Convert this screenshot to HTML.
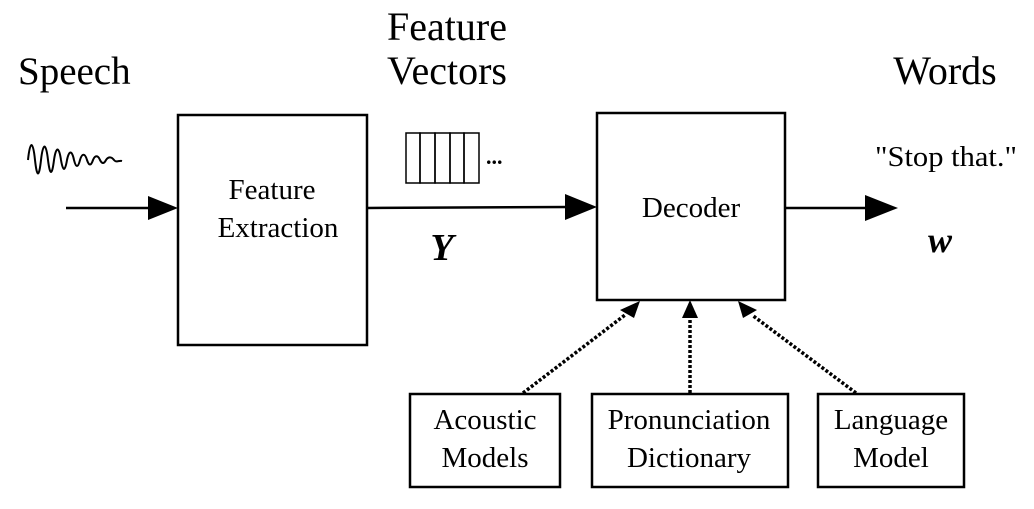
<!DOCTYPE html>
<html><head><style>body{margin:0;background:#fff}</style></head><body>
<svg width="1034" height="504" viewBox="0 0 1034 504" xmlns="http://www.w3.org/2000/svg" font-family="Liberation Serif, serif" fill="#000">
<text x="18" y="84" font-size="39">Speech</text>
<text x="447" y="40" font-size="40" text-anchor="middle">Feature</text>
<text x="447" y="84" font-size="40" text-anchor="middle">Vectors</text>
<text x="945" y="84" font-size="40" text-anchor="middle">Words</text>
<text x="946" y="166" font-size="29" text-anchor="middle" textLength="142" lengthAdjust="spacingAndGlyphs">"Stop that."</text>
<path d="M28,160 C30,140 33,140 35,160 C37,178 39,178 41,160 C43,142 46,142 48,160 C50,176 52,176 54,160 C56,146 59,146 61,160 C63,172 65,172 67,160 C69,150 72,150 74,160 C76,168 78,168 80,160 C82,153 85,153 87,160 C89,166 91,166 93,160 C95,155 98,155 100,160 C102,164 104,164 106,160 C108,157 111,156 114,160 C116,163 119,160 122,161" fill="none" stroke="#000" stroke-width="2"/>
<g fill="none" stroke="#000" stroke-width="2.5">
<rect x="178" y="115" width="189" height="230"/>
<rect x="597" y="113" width="188" height="187"/>
<rect x="410" y="394" width="150" height="93"/>
<rect x="592" y="394" width="196" height="93"/>
<rect x="818" y="394" width="146" height="93"/>
<line x1="66" y1="208" x2="150" y2="208"/>
<line x1="367" y1="208" x2="570" y2="207"/>
<line x1="785" y1="208" x2="870" y2="208"/>
</g>
<path d="M148,196 L178,208 L148,220z"/>
<path d="M565,194 L597,207 L565,220z"/>
<path d="M865,195 L898,208 L865,221z"/>
<g fill="none" stroke="#000" stroke-width="1.5">
<rect x="406" y="133" width="14" height="50"/><rect x="420" y="133" width="15" height="50"/><rect x="435" y="133" width="15" height="50"/><rect x="450" y="133" width="14" height="50"/><rect x="464" y="133" width="15" height="50"/>
</g>
<text x="486" y="164" font-size="22" font-weight="bold">...</text>
<g stroke="#000" stroke-width="3.5" stroke-dasharray="3,2" fill="none">
<line x1="523" y1="393" x2="625" y2="315"/>
<line x1="690" y1="393" x2="690" y2="318"/>
<line x1="856" y1="393" x2="752" y2="315"/>
</g>
<path d="M640,301 L634,318 L620,310z"/>
<path d="M690,300 L698,318 L682,318z"/>
<path d="M738,301 L757,310 L743,318z"/>
<g font-size="29" text-anchor="middle">
<text x="272" y="199">Feature</text><text x="278" y="237">Extraction</text>
<text x="691" y="217">Decoder</text>
<text x="485" y="429">Acoustic</text><text x="485" y="467">Models</text>
<text x="689" y="429">Pronunciation</text><text x="689" y="467">Dictionary</text>
<text x="891" y="429">Language</text><text x="891" y="467">Model</text>
</g>
<text x="442" y="260" font-size="38" font-weight="bold" font-style="italic" text-anchor="middle">Y</text>
<text x="940" y="252" font-size="36" font-weight="bold" font-style="italic" text-anchor="middle">w</text>
</svg>
</body></html>
